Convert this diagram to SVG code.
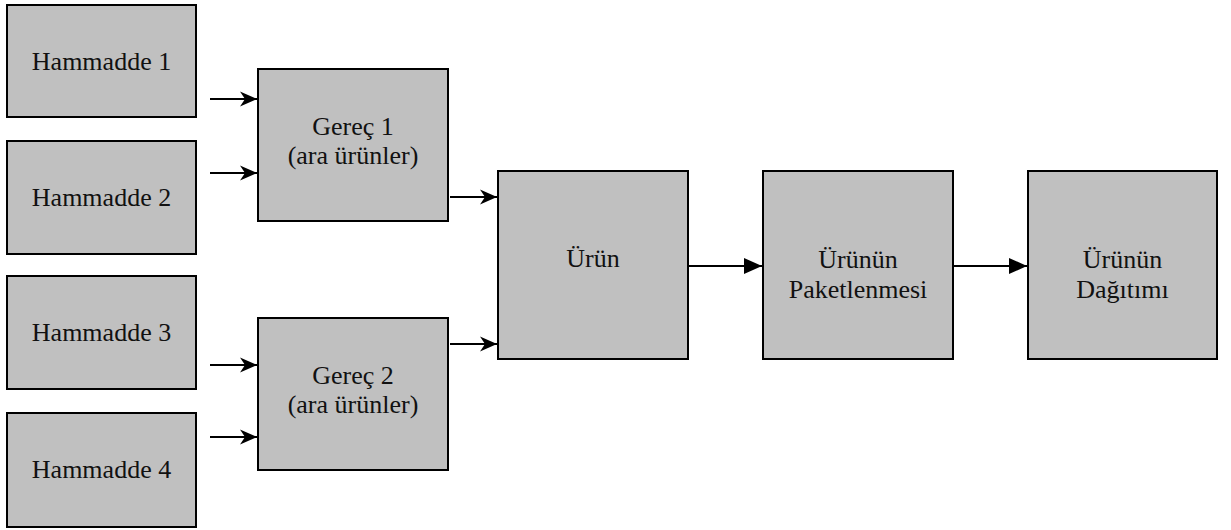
<svg xmlns="http://www.w3.org/2000/svg" width="1231" height="530" viewBox="0 0 1231 530">
  <style>
    .box { fill: #c0c0c0; stroke: #000; stroke-width: 2; }
    text { font-family: 'Liberation Serif', 'Times New Roman', Times, serif; font-size: 26px; fill: #111; text-anchor: middle; }
    .link { stroke: #000; stroke-width: 2; fill: none; }
    .small { marker-end: url(#barb); }
    .big { marker-end: url(#tri); }
  </style>
  <defs>
    <!-- concave arrowhead for the short feed arrows -->
    <marker id="barb" markerUnits="userSpaceOnUse" markerWidth="18" markerHeight="16" refX="17" refY="8" orient="auto">
      <path d="M0,0.5 L17,8 L0,15.5 L5,8 Z" fill="#000"/>
    </marker>
    <!-- plain triangle for the main flow -->
    <marker id="tri" markerUnits="userSpaceOnUse" markerWidth="20" markerHeight="18" refX="18" refY="9" orient="auto">
      <path d="M0,1 L18,9 L0,17 Z" fill="#000"/>
    </marker>
  </defs>

  <g id="hammadde1">
    <rect class="box" x="7" y="5" width="189" height="112"/>
    <text x="101.5" y="70">Hammadde 1</text>
  </g>
  <g id="hammadde2">
    <rect class="box" x="7" y="141" width="189" height="113"/>
    <text x="101.5" y="206">Hammadde 2</text>
  </g>
  <g id="hammadde3">
    <rect class="box" x="7" y="276" width="189" height="113"/>
    <text x="101.5" y="341">Hammadde 3</text>
  </g>
  <g id="hammadde4">
    <rect class="box" x="7" y="413" width="189" height="114"/>
    <text x="101.5" y="478">Hammadde 4</text>
  </g>

  <g id="gerec1">
    <rect class="box" x="258" y="69" width="190" height="152"/>
    <text x="353" y="135">Gereç 1</text>
    <text x="353" y="164">(ara ürünler)</text>
  </g>
  <g id="gerec2">
    <rect class="box" x="258" y="318" width="190" height="152"/>
    <text x="353" y="384">Gereç 2</text>
    <text x="353" y="413">(ara ürünler)</text>
  </g>

  <g id="urun">
    <rect class="box" x="498" y="171" width="190" height="188"/>
    <text x="593" y="267">Ürün</text>
  </g>
  <g id="paketlenme">
    <rect class="box" x="763" y="171" width="190" height="188"/>
    <text x="858" y="268">Ürünün</text>
    <text x="858" y="298">Paketlenmesi</text>
  </g>
  <g id="dagitim">
    <rect class="box" x="1028" y="171" width="189" height="188"/>
    <text x="1122.5" y="268">Ürünün</text>
    <text x="1122.5" y="298">Dağıtımı</text>
  </g>

  <g id="connectors">
    <line class="link small" x1="210" y1="99" x2="257" y2="99"/>
    <line class="link small" x1="210" y1="173" x2="257" y2="173"/>
    <line class="link small" x1="210" y1="365" x2="257" y2="365"/>
    <line class="link small" x1="210" y1="437" x2="257" y2="437"/>
    <line class="link small" x1="450" y1="197" x2="497" y2="197"/>
    <line class="link small" x1="450" y1="344" x2="497" y2="344"/>
    <line class="link big" x1="689" y1="266" x2="762" y2="266"/>
    <line class="link big" x1="954" y1="266" x2="1027" y2="266"/>
  </g>
</svg>
